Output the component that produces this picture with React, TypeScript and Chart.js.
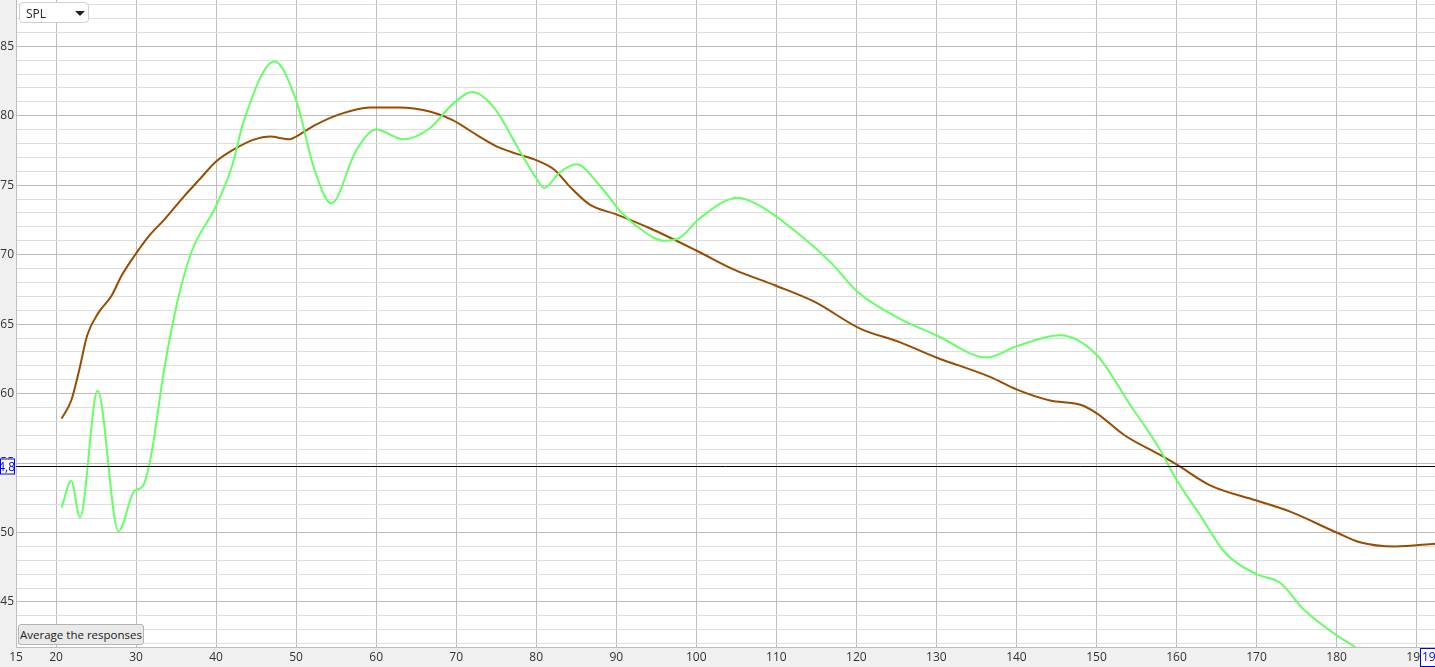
import React, { useEffect, useRef } from "react";
import { Chart, registerables } from "chart.js";

Chart.register(...registerables);

const xTicks = [15, 20, 30, 40, 50, 60, 70, 80, 90, 100, 110, 120, 130, 140, 150, 160, 170, 180, 190];
const yLabelTicks = [45, 50, 55, 60, 65, 70, 75, 80, 85];

const greenFreq = [20.7, 21.9, 23.0, 25.2, 27.8, 29.8, 30.8, 31.9, 33.5, 35.2, 37.0, 40.0, 42.0, 43.5, 47.3, 50.0, 52.3, 54.4, 57.5, 60.0, 63.4, 66.7, 69.5, 72.0, 74.7, 77.9, 80.0, 81.0, 82.9, 85.0, 87.9, 90.4, 92.9, 96.0, 97.9, 100.4, 105.2, 108.0, 113.0, 116.7, 120.2, 125.4, 130.0, 136.3, 140.0, 145.4, 150.0, 154.2, 157.9, 160.0, 162.9, 166.0, 170.0, 172.9, 176.0, 180.0, 182.2, 184.0];
const greenSpl = [51.8, 53.7, 51.1, 60.2, 50.1, 53.0, 53.3, 55.6, 61.7, 66.7, 70.3, 73.5, 76.4, 79.7, 83.9, 81.1, 76.1, 73.7, 77.5, 79.0, 78.3, 79.1, 80.8, 81.7, 80.6, 77.5, 75.5, 74.8, 75.9, 76.5, 75.0, 73.2, 71.9, 71.0, 71.2, 72.6, 74.1, 73.5, 71.4, 69.5, 67.3, 65.4, 64.2, 62.6, 63.4, 64.2, 62.8, 59.2, 56.0, 53.8, 51.3, 48.6, 47.0, 46.4, 44.4, 42.6, 41.8, 41.0];

const brownFreq = [20.7, 21.9, 22.9, 23.9, 25.4, 26.9, 28.2, 29.9, 31.7, 33.5, 36.0, 37.9, 40.0, 42.0, 44.8, 46.7, 49.2, 50.0, 52.3, 55.4, 59.2, 62.9, 66.7, 69.5, 72.9, 75.4, 77.9, 80.0, 82.3, 84.2, 86.7, 90.0, 94.2, 100.0, 104.8, 109.8, 114.8, 120.4, 125.4, 130.0, 136.7, 140.0, 144.2, 148.0, 150.0, 153.5, 157.9, 160.0, 164.2, 170.0, 174.2, 180.0, 182.9, 187.3, 192.3];
const brownSpl = [58.2, 59.5, 61.7, 64.2, 65.9, 67.0, 68.5, 70.0, 71.4, 72.5, 74.2, 75.4, 76.7, 77.5, 78.3, 78.5, 78.3, 78.5, 79.3, 80.1, 80.6, 80.6, 80.3, 79.7, 78.5, 77.7, 77.2, 76.8, 76.1, 74.9, 73.6, 72.9, 71.9, 70.3, 68.9, 67.8, 66.6, 64.7, 63.7, 62.6, 61.2, 60.3, 59.5, 59.2, 58.6, 57.0, 55.6, 54.9, 53.4, 52.3, 51.5, 50.0, 49.3, 49.0, 49.2];

const cursorY = 54.8;
const cursorYLabel = "54,8";
const cursorXLabel = "191,6";

const FONT = "'Open Sans', 'Noto Sans', sans-serif";

export default function App() {
  const ref = useRef<HTMLCanvasElement | null>(null);

  useEffect(() => {
    document.body.style.margin = "0";
    const canvas = ref.current;
    if (!canvas) return;

    const bgPlugin = {
      id: "bg",
      beforeDraw(chart: any) {
        const { ctx, chartArea } = chart;
        ctx.save();
        ctx.fillStyle = "#f0f0f0";
        ctx.fillRect(0, 0, chart.width, chart.height);
        ctx.fillStyle = "#ffffff";
        ctx.fillRect(chartArea.left, chartArea.top, chartArea.right - chartArea.left, chartArea.bottom - chartArea.top);
        ctx.restore();
      },
    };

    const cursorPlugin = {
      id: "cursor",
      afterDraw(chart: any) {
        const { ctx, chartArea, scales } = chart;
        const y = Math.round(scales.y.getPixelForValue(cursorY)) + 0.5;
        ctx.save();
        ctx.strokeStyle = "#000000";
        ctx.lineWidth = 1;
        ctx.beginPath();
        ctx.moveTo(chartArea.left, y);
        ctx.lineTo(chartArea.right, y);
        ctx.stroke();

        ctx.beginPath();
        ctx.rect(0, y - 8, chartArea.left - 1, 16);
        ctx.fillStyle = "#ffffff";
        ctx.fill();
        ctx.save();
        ctx.clip();
        ctx.fillStyle = "#0000ff";
        ctx.font = `12px ${FONT}`;
        ctx.textAlign = "right";
        ctx.textBaseline = "middle";
        ctx.fillText(cursorYLabel, chartArea.left - 1, y + 1);
        ctx.restore();
        ctx.strokeStyle = "#0000ff";
        ctx.strokeRect(0.5, y - 7.5, chartArea.left - 2, 15);

        const bx = 1420;
        const by = chartArea.bottom + 1;
        ctx.beginPath();
        ctx.rect(bx, by, chart.width - bx, chart.height - by);
        ctx.fillStyle = "#ffffff";
        ctx.fill();
        ctx.save();
        ctx.clip();
        ctx.fillStyle = "#0000ff";
        ctx.font = `12px ${FONT}`;
        ctx.textAlign = "left";
        ctx.textBaseline = "middle";
        ctx.fillText(cursorXLabel, bx + 2, by + 10);
        ctx.restore();
        ctx.strokeStyle = "#0000ff";
        ctx.strokeRect(bx + 0.5, by + 0.5, chart.width - bx + 5, chart.height - by - 1);
        ctx.restore();
      },
    };

    const chart = new Chart(canvas, {
      type: "line",
      data: {
        datasets: [
          {
            label: "green",
            data: greenFreq.map((f, i) => ({ x: f, y: greenSpl[i] })),
            borderColor: "#66ff66",
            borderWidth: 2,
            pointRadius: 0,
            fill: false,
            cubicInterpolationMode: "monotone",
          },
          {
            label: "brown",
            data: brownFreq.map((f, i) => ({ x: f, y: brownSpl[i] })),
            borderColor: "#994c00",
            borderWidth: 2,
            pointRadius: 0,
            fill: false,
            cubicInterpolationMode: "monotone",
          },
        ],
      },
      plugins: [bgPlugin, cursorPlugin],
      options: {
        animation: false,
        responsive: false,
        parsing: false as any,
        layout: { padding: 0 },
        plugins: { legend: { display: false }, tooltip: { enabled: false } },
        events: [],
        scales: {
          x: {
            type: "linear",
            min: 15,
            max: 192.3,
            afterBuildTicks(axis: any) {
              axis.ticks = xTicks.map((v) => ({ value: v }));
            },
            afterFit(axis: any) {
              axis.height = 20;
              axis.paddingLeft = 0;
              axis.paddingRight = 0;
            },
            ticks: {
              autoSkip: false,
              maxRotation: 0,
              padding: 3,
              color: "#333333",
              font: { family: FONT, size: 12 },
              callback: (v: any) => String(v),
            },
            grid: { color: "#bdbdbd", drawTicks: false, lineWidth: 1 },
            border: { color: "#bdbdbd" },
          },
          y: {
            type: "linear",
            min: 41.76,
            max: 88.33,
            afterBuildTicks(axis: any) {
              const t = [];
              for (let v = 42; v <= 88; v++) t.push({ value: v });
              axis.ticks = t;
            },
            afterFit(axis: any) {
              axis.width = 16;
              axis.paddingTop = 0;
              axis.paddingBottom = 0;
            },
            ticks: {
              autoSkip: false,
              padding: 2,
              color: "#333333",
              font: { family: FONT, size: 12 },
              callback: (v: any) => (yLabelTicks.includes(Number(v)) ? String(v) : ""),
            },
            grid: {
              drawTicks: false,
              lineWidth: 1,
              color: (c: any) => (c.tick && c.tick.value % 5 === 0 ? "#bdbdbd" : "#dedede"),
            },
            border: { color: "#bdbdbd" },
          },
        },
      } as any,
    });
    return () => chart.destroy();
  }, []);

  return (
    <div style={{ position: "relative", width: 1435, height: 667, overflow: "hidden" }}>
      <canvas ref={ref} width={1435} height={667} style={{ display: "block" }} />
      <div
        style={{
          position: "absolute",
          left: 19,
          top: 2,
          width: 68,
          height: 19,
          background: "#ffffff",
          border: "1px solid #d0d0d0",
          borderRadius: 4,
          fontFamily: FONT,
          fontSize: 12,
          color: "#222",
          boxSizing: "content-box",
        }}
      >
        <span style={{ position: "absolute", left: 6, top: 2 }}>SPL</span>
        <span
          style={{
            position: "absolute",
            left: 55,
            top: 8,
            width: 0,
            height: 0,
            borderLeft: "5px solid transparent",
            borderRight: "5px solid transparent",
            borderTop: "5px solid #222",
          }}
        />
      </div>
      <div
        style={{
          position: "absolute",
          left: 18,
          top: 624,
          width: 124,
          height: 19,
          background: "#e9e9e9",
          border: "1px solid #b4b4b4",
          borderRadius: 3,
          fontFamily: FONT,
          fontSize: 11.5,
          color: "#222",
          lineHeight: "19px",
          textAlign: "center",
          whiteSpace: "nowrap",
        }}
      >
        Average the responses
      </div>
    </div>
  );
}
